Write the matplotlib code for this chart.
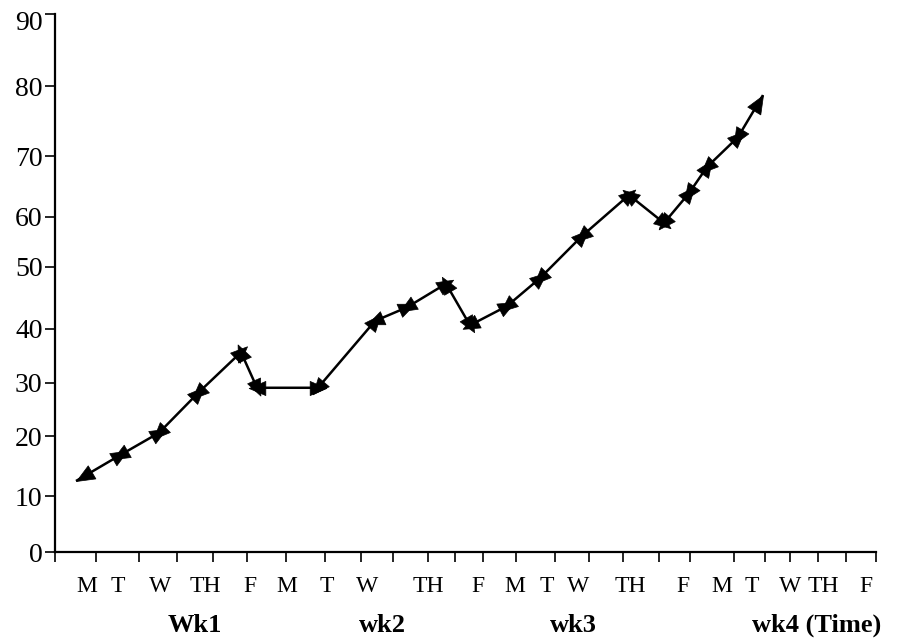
import numpy as np
import matplotlib
matplotlib.use("Agg")
from matplotlib import pyplot as plt
from matplotlib.ticker import NullLocator, FixedLocator, NullFormatter, FixedFormatter
from matplotlib.markers import MarkerStyle
from matplotlib.path import Path
import matplotlib.transforms as mtransforms

plt.rcParams['font.family'] = ['Liberation Serif', 'DejaVu Serif']

# points along the time axis (x in time-position units) and the values read
x_vals = [2.1, 6.5, 10.4, 14.3, 18.6, 20.2, 26.3, 32.0, 35.2, 39.1,
          41.5, 45.2, 48.5, 52.7, 57.4, 60.9, 63.4, 65.2, 68.3, 70.8]
y_vals = [12.5, 16.8, 20.6, 28.1, 35.7, 29.1, 29.1, 41.3, 43.5, 47.3,
          40.6, 43.7, 48.2, 56.2, 63.6, 58.8, 63.9, 68.2, 72.7, 78.7]

# hand drawn axis: tick marks and day labels are unevenly spaced
x_ticks = [0, 4.07, 8.43, 12.2, 15.8, 19.17, 23.07, 27.03, 30.63, 33.77, 37.27,
           40.0, 42.77, 46.07, 50.03, 53.37, 56.83, 60.37, 63.5, 67.87,
           71.0, 73.53, 76.27, 79.1, 82.1]
day_labels = ['M', 'T', 'W', 'TH', 'F'] * 4
day_pos = [3.17, 6.33, 10.5, 15.0, 19.5, 23.17, 27.17, 31.17, 37.3, 42.33,
           46.0, 49.17, 52.33, 57.5, 62.83, 66.67, 69.67, 73.5, 76.83, 81.1]
week_labels = ['Wk1', 'wk2', 'wk3', 'wk4 (Time)']
week_pos = [14.0, 32.7, 51.8, 76.2]

# y ticks and where each one sits on the drawn axis (uneven spacing)
y_ticks = [0, 10, 20, 30, 40, 50, 60, 70, 80, 90]
y_tick_height = [0, 56, 116, 169, 223, 285, 335, 396, 466, 538]

vals_ext = np.array([-1000] + y_ticks + [1000], dtype=float)
h_ext = np.array([-5600] + y_tick_height + [538 + 910 * 7.2], dtype=float)


def fwd(v):
  return np.interp(v, vals_ext, h_ext)


def inv(h):
  return np.interp(h, h_ext, vals_ext)


fig = plt.figure(figsize=(8.98, 6.40), dpi=100)
ax = fig.add_axes([55 / 898, 88 / 640, 821 / 898, 538 / 640])
ax.set_yscale('function', functions=(fwd, inv))
ax.set_xlim(0, 82.1)
ax.set_ylim(0, 90)

ax.plot(x_vals, y_vals, color='black', lw=1.8, solid_capstyle='butt')

# every segment is a double headed arrow; inner heads are centred on the
# point so neighbouring heads overlap into a star, outer ends end on a tip
centred = Path([(0, 1), (-0.85, -1), (0.85, -1), (0, 1)], closed=True)
tipped = Path([(0, 0), (-0.42, -1), (0.42, -1), (0, 0)], closed=True)
last = len(x_vals) - 1
pts = ax.transData.transform(np.column_stack([x_vals, y_vals]))
for i in range(last):
  dx, dy = pts[i + 1] - pts[i]
  ang = np.degrees(np.arctan2(dy, dx))
  for j, a in [(i + 1, ang), (i, ang + 180)]:
    rot = mtransforms.Affine2D().rotate_deg(a - 90)
    if j in (0, last):
      m, ms = MarkerStyle(tipped, transform=rot), 26
    else:
      m, ms = MarkerStyle(centred, transform=rot), 12
    ax.plot(x_vals[j], y_vals[j], marker=m, ms=ms, color='black', mew=0.5,
            linestyle='none', clip_on=False)

for s in ['top', 'right']:
  ax.spines[s].set_visible(False)
for s in ['left', 'bottom']:
  ax.spines[s].set_linewidth(1.6)

ax.set_yticks(y_ticks)
ax.set_yticklabels([str(v) for v in y_ticks])
ax.yaxis.set_minor_locator(NullLocator())
ax.tick_params(axis='y', which='major', length=7, width=1.2, pad=2, labelsize=20)

ax.xaxis.set_major_locator(FixedLocator(x_ticks))
ax.xaxis.set_major_formatter(NullFormatter())
ax.xaxis.set_minor_locator(FixedLocator(day_pos))
ax.xaxis.set_minor_formatter(FixedFormatter(day_labels))
ax.tick_params(axis='x', which='major', length=7, width=1.2)
ax.tick_params(axis='x', which='minor', length=0, pad=17, labelsize=17)

# the top label sits a little below its tick in the original
top_lab = ax.yaxis.get_major_ticks()[-1].label1
top_lab.set_transform(top_lab.get_transform() +
                      mtransforms.ScaledTranslation(0, -7 / 100, fig.dpi_scale_trans))

trans = mtransforms.blended_transform_factory(ax.transData, ax.transAxes)
for lab, xp in zip(week_labels, week_pos):
  ax.text(xp, -0.1487, lab, transform=trans, ha='center', va='baseline',
          fontsize=19, fontweight='bold')

fig.savefig('out.png', dpi=100)
